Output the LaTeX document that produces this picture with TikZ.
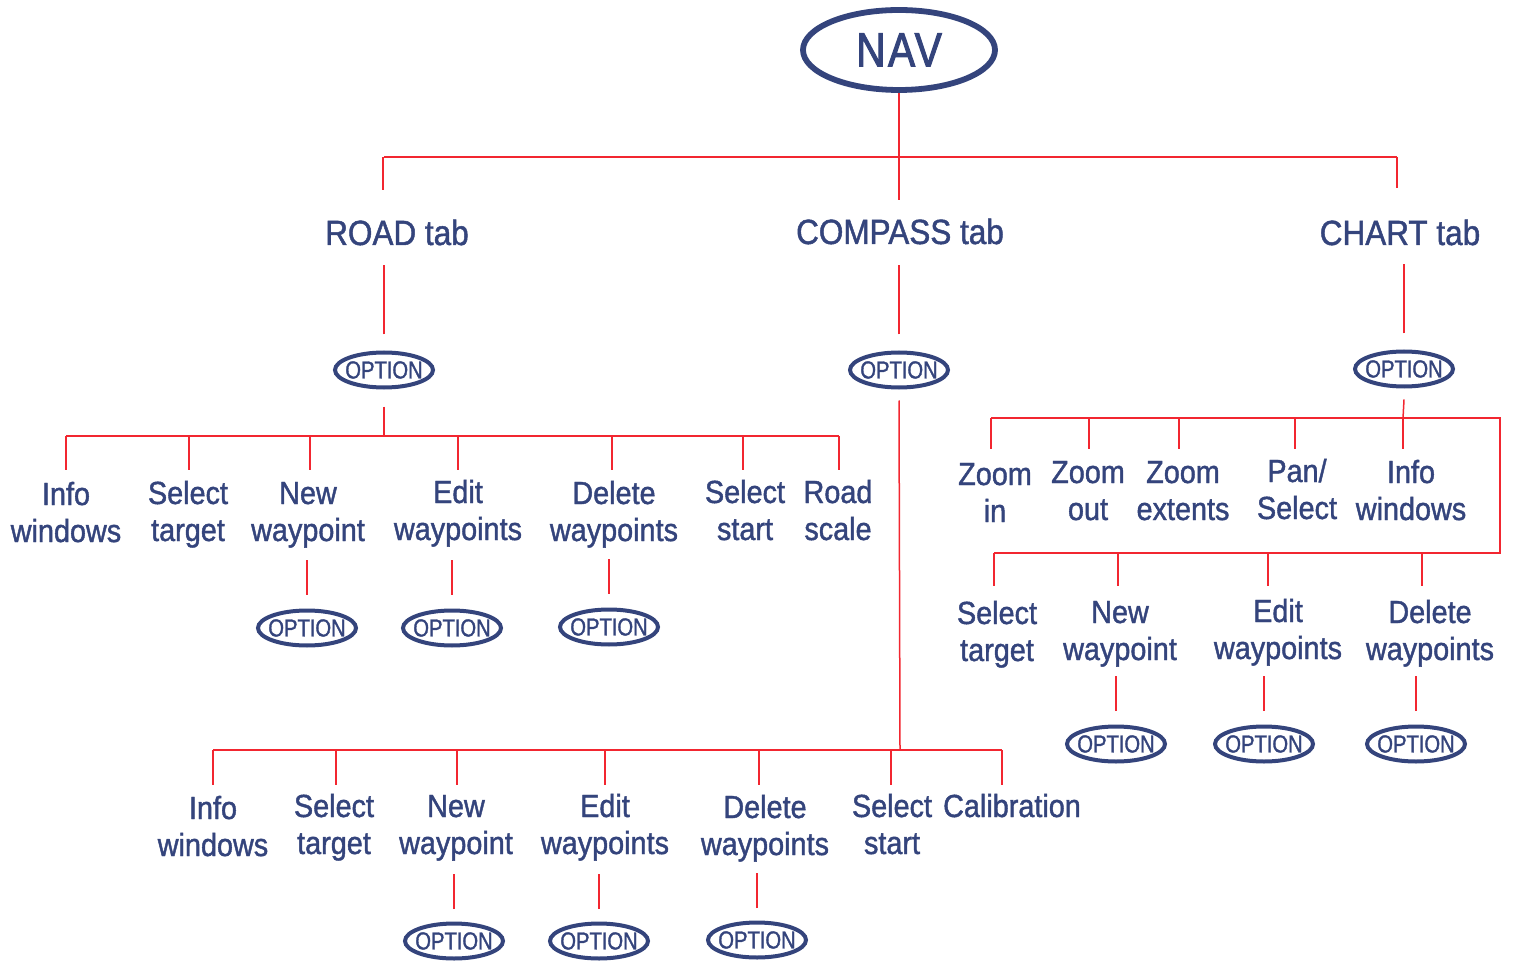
\documentclass[tikz,border=0pt]{standalone}
\usepackage{fontspec}
\setmainfont{Liberation Sans}[FakeStretch=0.9,FakeBold=1.3]
\newfontfamily\optfont{Liberation Sans}[FakeStretch=0.82,FakeBold=1.3]
\newfontfamily\navfont{Liberation Sans}[FakeStretch=0.85,LetterSpace=5,FakeBold=2]
\usetikzlibrary{shapes.geometric,calc}
\definecolor{navy}{RGB}{52,68,124}
\definecolor{linkred}{RGB}{242,38,48}
\newcommand\twol[2]{\begin{tabular}[t]{@{}c@{}}#1\\#2\end{tabular}}
\newcommand\OPT{\makebox[0pt]{OPTION}}
\begin{document}
\begin{tikzpicture}[x=0.5pt,y=-0.5pt,
  link/.style={draw=linkred,line width=0.75pt},
  lbl/.style={anchor=base,inner sep=0pt,text=navy,font=\fontsize{16}{18.5}\selectfont},
  tab/.style={anchor=base,inner sep=0pt,text=navy,font=\fontsize{17.5}{20}\selectfont},
  opt/.style={ellipse,draw=navy,line width=2pt,inner sep=0pt,minimum width=49pt,minimum height=17.5pt,text=navy,font=\optfont\fontsize{12.3}{14}\selectfont},
  navbox/.style={ellipse,draw=navy,line width=2.9pt,inner sep=0pt,minimum width=96pt,minimum height=40pt,text=navy,font=\navfont\fontsize{24}{28}\selectfont}]
\useasboundingbox (0,0) rectangle (1514,962);

% top
\node[navbox] (nav) at (899,50) {\makebox[0pt]{NAV}};
\node[tab] (road) at (397,245) {ROAD tab};
\node[tab] (compass) at (900,244) {COMPASS tab};
\node[tab] (chart) at (1400,245) {CHART tab};
\node[opt] (optR) at (384,370) {\OPT};
\node[opt] (optM) at (899,370) {\OPT};
\node[opt] (optC) at (1404,369) {\OPT};

\coordinate (topbar) at (899,157);
\draw[link] (nav.south) -- ++(0,107);
\draw[link] (optR |- topbar) -- ($(optC |- topbar)+(-7,0)$);
\draw[link] ($(optR |- topbar)+(-1,0)$) -- ++(0,33);
\draw[link] ($(optC |- topbar)+(-7,0)$) -- ++(0,31);
\foreach \o in {optR,optM,optC}{\draw[link] ($(\o.north)+(0,-16)$) -- ++(0,-69);}

% ROAD branch
\node[lbl] (iwR) at (66,505) {\twol{Info}{windows}};
\node[lbl] (stR) at (188,504) {\twol{Select}{target}};
\node[lbl] (nwR) at (308,504) {\twol{New}{waypoint}};
\node[lbl] (ewR) at (458,503) {\twol{Edit}{waypoints}};
\node[lbl] (dwR) at (614,504) {\twol{Delete}{waypoints}};
\node[lbl] (ssR) at (745,503) {\twol{Select}{start}};
\node[lbl] (rsR) at (838,503) {\twol{Road}{scale}};
\node[opt] (onwR) at (307,628) {\OPT};
\node[opt] (oewR) at (452,628) {\OPT};
\node[opt] (odwR) at (609,627) {\OPT};
\coordinate (roadbar) at (383,436);
\draw[link] ($(optR.south)+(0,17)$) -- (optR |- roadbar);
\draw[link] (iwR |- roadbar) -- ($(rsR |- roadbar)+(1,0)$);
\foreach \n/\d in {iwR/0,stR/1,nwR/2,ewR/0,dwR/-2,ssR/-2,rsR/1}{\draw[link] ($(\n |- roadbar)+(\d,0)$) -- ++(0,34);}
\foreach \o in {onwR,oewR,odwR}{\draw[link] ($(\o.north)+(0,-14)$) -- ++(0,-35);}

% COMPASS branch
\node[lbl] (iwM) at (213,819) {\twol{Info}{windows}};
\node[lbl] (stM) at (334,817) {\twol{Select}{target}};
\node[lbl] (nwM) at (456,817) {\twol{New}{waypoint}};
\node[lbl] (ewM) at (605,817) {\twol{Edit}{waypoints}};
\node[lbl] (dwM) at (765,818) {\twol{Delete}{waypoints}};
\node[lbl] (ssM) at (892,817) {\twol{Select}{start}};
\node[lbl] (cal) at (1012,817) {Calibration};
\node[opt] (onwM) at (454,941) {\OPT};
\node[opt] (oewM) at (599,941) {\OPT};
\node[opt] (odwM) at (757,940) {\OPT};
\coordinate (cbar) at (900,750);
\draw[link] ($(optM.south)+(0,11)$) -- ($(optM |- cbar)+(1,0)$);
\draw[link] (iwM |- cbar) -- ($(cal |- cbar)+(-10,0)$);
\foreach \n/\d in {iwM/0,stM/2,nwM/1,ewM/0,dwM/-6,ssM/-1,cal/-10}{\draw[link] ($(\n |- cbar)+(\d,0)$) -- ++(0,35);}
\foreach \o in {onwM,oewM,odwM}{\draw[link] ($(\o.north)+(0,-12.5)$) -- ++(0,-35);}

% CHART branch
\node[lbl] (zi) at (995,485) {\twol{Zoom}{in}};
\node[lbl] (zo) at (1088,483) {\twol{Zoom}{out}};
\node[lbl] (ze) at (1183,483) {\twol{Zoom}{extents}};
\node[lbl] (ps) at (1297,482) {\twol{Pan/}{Select}};
\node[lbl] (iwC) at (1411,483) {\twol{Info}{windows}};
\node[lbl] (stC) at (997,624) {\twol{Select}{target}};
\node[lbl] (nwC) at (1120,623) {\twol{New}{waypoint}};
\node[lbl] (ewC) at (1278,622) {\twol{Edit}{waypoints}};
\node[lbl] (dwC) at (1430,623) {\twol{Delete}{waypoints}};
\node[opt] (onwC) at (1116,744) {\OPT};
\node[opt] (oewC) at (1264,744) {\OPT};
\node[opt] (odwC) at (1416,744) {\OPT};
\coordinate (hbar1) at (1403,418);
\coordinate (hbar2) at (1403,553);
\coordinate (cornerA) at (1500,418);
\coordinate (cornerB) at (1500,553);
\draw[link] ($(optC.south)+(0,11)$) -- ($(optC |- hbar1)+(-1,0)$);
\draw[link] ($(zi |- hbar1)+(-4,0)$) -- (cornerA) -- (cornerB) -- ($(stC |- hbar2)+(-3,0)$);
\foreach \n/\d in {zi/-4,zo/1,ze/-4,ps/-2,iwC/-8}{\draw[link] ($(\n |- hbar1)+(\d,0)$) -- ++(0,31);}
\foreach \n/\d in {stC/-3,nwC/-2,ewC/-10,dwC/-8}{\draw[link] ($(\n |- hbar2)+(\d,0)$) -- ++(0,33);}
\foreach \o in {onwC,oewC,odwC}{\draw[link] ($(\o.north)+(0,-13.5)$) -- ++(0,-35);}
\end{tikzpicture}
\end{document}
